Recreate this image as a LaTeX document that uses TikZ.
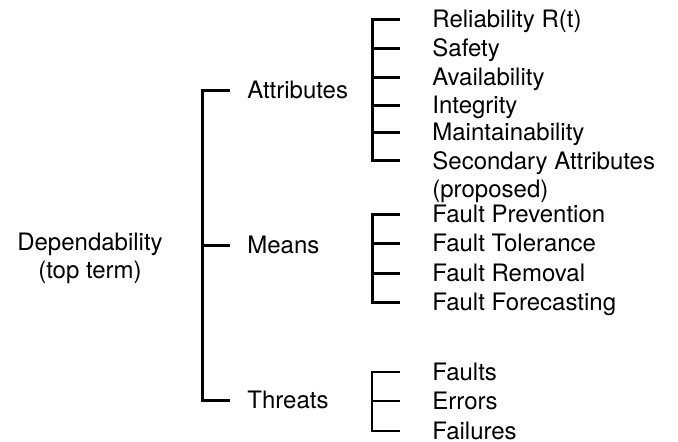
\documentclass[tikz,border=0pt]{standalone}
\usepackage{fontspec}
\setmainfont{TeX Gyre Heros}
\usepackage{tikz}

\tikzset{
  lbl/.style={anchor=west, inner sep=0pt, text height=8.6pt, text depth=0pt},
  brk/.style={line width=1.5pt},
  thinbrk/.style={line width=1pt},
}

\begin{document}
\begin{tikzpicture}[x=0.5pt, y=-0.5pt, font=\fontsize{12}{14}\selectfont]
\useasboundingbox (0,0) rectangle (678,441);

% top term
\node[align=center] (dep) at (90,258) {Dependability\\(top term)};

% first level
\node[lbl] (attr) at (247,90) {Attributes};
\node[lbl] (means) at (247,245) {Means};
\node[lbl] (threats) at (247,400) {Threats};

% attributes
\node[lbl] (rel) at (432,19) {Reliability R(t)};
\node[lbl] (safety) at (432,48) {Safety};
\node[lbl] (avail) at (432,77) {Availability};
\node[lbl] (integ) at (432,105) {Integrity};
\node[lbl] (maint) at (432,132) {Maintainability};
\node[align=left, anchor=north west, inner sep=0pt] (second) at (432,151.4) {Secondary Attributes\\(proposed)};
\coordinate (secT) at ([yshift=-4.3pt]second.north west);

% means
\node[lbl] (prev) at (432,214) {Fault Prevention};
\node[lbl] (toler) at (432,243) {Fault Tolerance};
\node[lbl] (remov) at (432,273) {Fault Removal};
\node[lbl] (forec) at (432,302) {Fault Forecasting};

% threats
\node[lbl] (faults) at (432,372) {Faults};
\node[lbl] (errors) at (432,401) {Errors};
\node[lbl] (failures) at (432,431) {Failures};

% main bracket
\draw[brk] ([xshift=-8.5pt]attr.west) -- ++(-14pt,0) |- ([xshift=-8.5pt]threats.west);
\draw[brk] ([xshift=-8.5pt]means.west) -- ++(-14pt,0);

% attributes bracket
\draw[brk] ([xshift=-16pt]rel.west) -- ++(-14pt,0) |- ([xshift=-16pt]secT);
\draw[brk] ([xshift=-16pt]safety.west) -- ++(-14pt,0);
\draw[brk] ([xshift=-16pt]avail.west) -- ++(-14pt,0);
\draw[brk] ([xshift=-16pt]integ.west) -- ++(-14pt,0);
\draw[brk] ([xshift=-16pt]maint.west) -- ++(-14pt,0);

% means bracket
\draw[brk] ([xshift=-16pt]prev.west) -- ++(-14pt,0) |- ([xshift=-16pt]forec.west);
\draw[brk] ([xshift=-16pt]toler.west) -- ++(-14pt,0);
\draw[brk] ([xshift=-16pt]remov.west) -- ++(-14pt,0);

% threats bracket
\draw[thinbrk] ([xshift=-16pt]faults.west) -- ++(-14pt,0) |- ([xshift=-16pt]failures.west);
\draw[thinbrk] ([xshift=-16pt]errors.west) -- ++(-14pt,0);
\end{tikzpicture}
\end{document}
